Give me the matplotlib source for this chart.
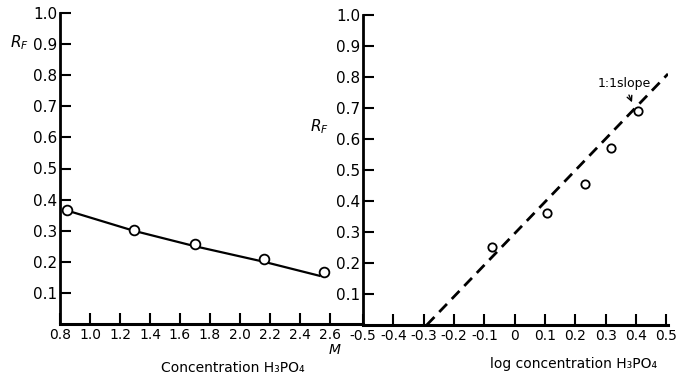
import matplotlib
matplotlib.use("Agg")
import matplotlib.pyplot as plt

plt.rcParams['font.family'] = ['DejaVu Sans']
plt.rcParams['axes.unicode_minus'] = False

# left panel: Rf against molar concentration
conc = [0.85, 1.29, 1.70, 2.16, 2.56]
rf_conc = [0.367, 0.302, 0.257, 0.209, 0.167]
# smooth curve drawn through them
curve_x = [0.86, 1.29, 1.70, 2.16, 2.53]
curve_y = [0.363, 0.300, 0.250, 0.200, 0.155]
conc_ticks = [0.8, 1.0, 1.2, 1.4, 1.6, 1.8, 2.0, 2.2, 2.4, 2.6]
conc_labels = ['0.8', '1.0', '1.2', '1.4', '1.6', '1.8', '2.0', '2.2', '2.4', '2.6']

# right panel: Rf against log concentration
logc = [-0.076, 0.105, 0.23, 0.316, 0.405]
rf_log = [0.252, 0.361, 0.455, 0.571, 0.69]
slope_x = [-0.29, 0.505]
slope_y = [0.0, 0.81]
log_ticks = [-0.5, -0.4, -0.3, -0.2, -0.1, 0, 0.1, 0.2, 0.3, 0.4, 0.5]
log_labels = ['-0.5', '-0.4', '-0.3', '-0.2', '-0.1', '0', '0.1', '0.2', '0.3', '0.4', '0.5']

rf_ticks = [0.1, 0.2, 0.3, 0.4, 0.5, 0.6, 0.7, 0.8, 0.9, 1.0]
rf_labels = ['0.1', '0.2', '0.3', '0.4', '0.5', '0.6', '0.7', '0.8', '0.9', '1.0']

W, H = 676, 380
fig = plt.figure(figsize=(W / 100, H / 100), dpi=100)

def box(x0, y0, x1, y1):
    # pixel box -> figure fraction
    return [x0 / W, 1 - y1 / H, (x1 - x0) / W, (y1 - y0) / H]

ax1 = fig.add_axes(box(60, 13, 363, 324))
ax2 = fig.add_axes(box(363, 15, 668, 325))

for ax in (ax1, ax2):
    ax.spines['top'].set_visible(False)
    ax.spines['right'].set_visible(False)
    ax.spines['left'].set_linewidth(2)
    ax.spines['bottom'].set_linewidth(2.2)
    ax.set_ylim(0, 1.0)
    ax.set_yticks(rf_ticks)
    ax.set_yticklabels(rf_labels)
    ax.tick_params(direction='in', length=8, width=1.5, pad=2)
    ax.tick_params(axis='y', labelsize=11)
    ax.tick_params(axis='x', labelsize=10, pad=3)
    ax.patch.set_alpha(0)

ax1.set_xlim(0.8, 2.82)
ax1.set_xticks(conc_ticks)
ax1.set_xticklabels(conc_labels)
ax1.plot(curve_x, curve_y, color='black', lw=1.6)
ax1.plot(conc, rf_conc, 'o', mfc='white', mec='black', ms=7, mew=1.3)

ax2.set_xlim(-0.5, 0.505)
ax2.set_xticks(log_ticks)
ax2.set_xticklabels(log_labels)
ax2.plot(slope_x, slope_y, color='black', lw=2, ls=(0, (4, 2.5)))
ax2.plot(logc, rf_log, 'o', mfc='white', mec='black', ms=6, mew=1.3)
ax2.annotate('1:1slope', xy=(0.39, 0.71), xytext=(0.36, 0.78),
             ha='center', va='center', fontsize=9,
             arrowprops=dict(arrowstyle='->', color='black', lw=1))

fig.text(10 / W, 1 - 43 / H, '$R_F$', fontsize=11, va='center')
fig.text(310 / W, 1 - 127 / H, '$R_F$', fontsize=11, va='center')
fig.text(335 / W, 1 - 350 / H, '$M$', fontsize=10, ha='center', va='center')
fig.text(233 / W, 1 - 368 / H, 'Concentration H₃PO₄', fontsize=10, ha='center', va='center')
fig.text(574 / W, 1 - 364 / H, 'log concentration H₃PO₄', fontsize=10, ha='center', va='center')

fig.savefig('out.png', dpi=100)
